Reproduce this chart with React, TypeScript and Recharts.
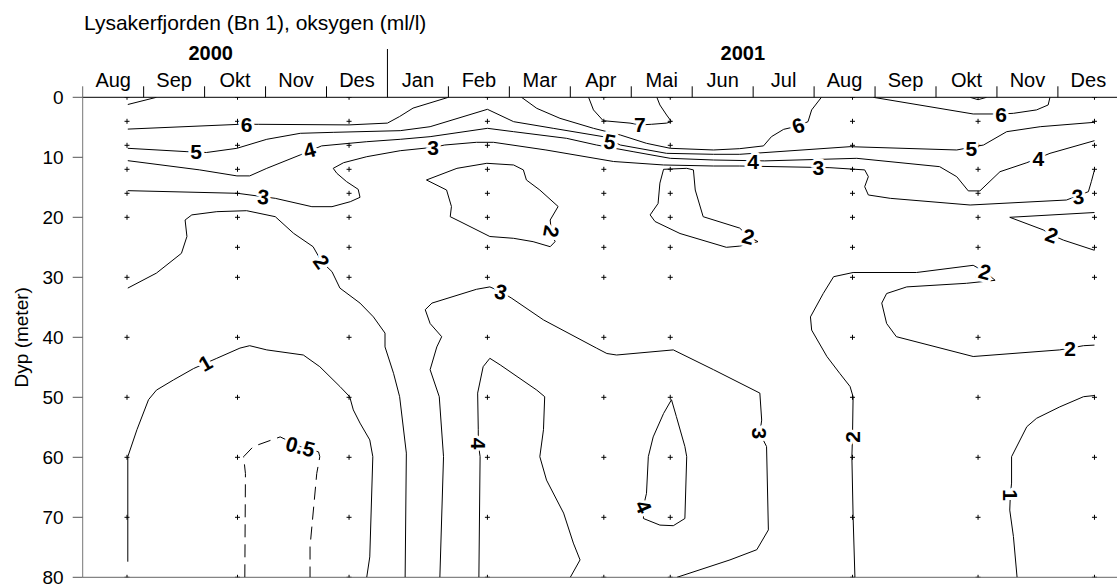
import React from 'react';
import { ComposedChart, XAxis, YAxis, Line, Scatter, ReferenceLine, Label } from 'recharts';

// chart box
const W = 1120;
const H = 584;
const Y_AXIS_W = 82.7;
const TOP = 97.3;
const MONTH_W = 60.95;

// top axis
const months = ['Aug', 'Sep', 'Okt', 'Nov', 'Des', 'Jan', 'Feb', 'Mar', 'Apr', 'Mai', 'Jun', 'Jul', 'Aug', 'Sep', 'Okt', 'Nov', 'Des'];
const monthCenters = months.map((_, i) => i + 0.5);
const yearLabels = ['2000', '2001'];
const yearPos = [2.1, 10.83];
const depthTicks = [0, 10, 20, 30, 40, 50, 60, 70, 80];

// sampling (months since 1 Aug 2000, depth m)
const sampleTimes = [0.727, 2.54, 4.37, 6.64, 8.55, 9.64, 12.63, 14.69, 16.6];
const sampleDepths = [0, 4, 8, 12, 16, 20, 25, 30, 40, 50, 60, 70, 80];

// contour lines, [month, depth]
const c6Left = [[0.74, 1.2], [1.21, 0]];
const c6Top = [[0.74, 5.3], [2.58, 4.5], [2.88, 4.5], [4.37, 4.6], [5.0, 4.3], [5.2, 3.2], [5.42, 1.8], [6.0, 0]];
const c6Mid = [[7.2, 0], [7.45, 1.84], [7.83, 3.5], [8.38, 5.17], [8.82, 6.28], [9.25, 7.67], [9.64, 8.5], [10.35, 8.78], [10.78, 8.56], [11.17, 8.1], [11.3, 6.56], [11.5, 5.34], [11.74, 4.78], [11.9, 4.06], [11.96, 2.1], [12.12, 0]];
const c6Right = [[12.97, 0], [14.61, 2.78], [15.07, 2.78], [15.27, 2.67], [15.65, 2.1], [15.84, 1.28], [15.87, 0]];
const c6Bump = [[14.56, 0], [14.69, 0.4], [14.83, 0]];
const c7 = [[8.3, 0], [8.38, 2.1], [8.54, 3.9], [8.98, 4.3], [9.14, 4.6], [9.33, 4.5], [9.58, 4.3], [9.66, 4.06], [9.58, 2.95], [9.47, 1.28], [9.42, 0]];
const c5 = [[0.74, 8.5], [1.71, 9.06], [2.03, 9.2], [2.53, 8.5], [3.02, 7.0], [3.57, 6.0], [4.11, 5.84], [5.21, 5.56], [5.7, 4.9], [6.64, 2.0], [7.07, 4.06], [7.72, 5.17], [8.54, 6.56], [8.82, 7.95], [9.58, 9.34], [10.35, 9.5], [10.78, 9.5], [12.59, 8.23], [14.34, 8.78], [14.78, 7.95], [15.16, 5.73], [15.71, 4.9], [16.6, 4.17]];
const c4 = [[0.74, 10.56], [1.92, 12.1], [2.53, 13.1], [2.74, 13.1], [3.02, 11.84], [3.57, 9.6], [3.92, 8.1], [4.66, 7.4], [5.21, 7.0], [5.7, 6.56], [6.64, 5.17], [7.07, 5.73], [7.94, 6.84], [8.43, 7.95], [9.03, 9.06], [9.64, 10.17], [10.35, 10.45], [11.19, 10.6], [12.7, 10.17], [14.06, 11.56], [14.34, 13.23], [14.53, 15.6], [14.72, 15.6], [15.05, 12.4], [15.49, 10.9], [15.87, 9.34], [16.6, 7.23]];
const c3Upper = [[0.74, 15.56], [2.54, 16.0], [3.16, 16.84], [3.76, 18.23], [4.09, 18.23], [4.39, 17.4], [4.55, 16.67], [4.52, 15.34], [4.33, 14.06], [4.17, 12.67], [4.11, 11.84], [4.28, 10.9], [4.66, 9.9], [5.21, 8.9], [5.75, 8.34], [5.94, 7.95], [6.46, 7.5], [6.74, 7.5], [7.6, 8.78], [8.71, 10.7], [9.53, 11.28], [10.35, 11.45], [10.78, 11.45], [11.96, 11.67], [12.26, 11.73], [12.83, 12.1], [12.89, 13.23], [12.83, 14.9], [12.89, 16.28], [13.25, 16.84], [14.56, 17.95], [16.14, 17.12], [16.5, 15.73], [16.55, 14.0], [16.6, 12.1]];
const c2Upper = [[0.74, 31.8], [1.21, 29.3], [1.62, 26.0], [1.71, 23.2], [1.68, 20.45], [1.79, 19.6], [2.2, 19.06], [2.69, 18.9], [3.16, 19.9], [3.46, 22.67], [3.78, 24.9], [3.92, 27.4], [4.09, 29.06], [4.22, 31.8], [4.55, 34.3], [4.77, 36.6], [4.96, 39.3], [4.96, 41.6], [5.1, 46], [5.2, 49.9], [5.31, 59.3], [5.29, 80]];
const c2Feb = [[5.64, 13.78], [5.97, 15.45], [6.05, 18.2], [6.03, 19.9], [6.19, 20.7], [6.68, 23.2], [7.07, 23.5], [7.39, 24.06], [7.67, 24.9], [7.75, 24.06], [7.69, 22.4], [7.67, 20.45], [7.8, 18.2], [7.5, 15.45], [7.28, 13.78], [7.23, 12.1], [7.07, 11.28], [6.63, 11.0], [6.14, 11.84], [5.64, 13.78]];
const c2Mai = [[9.53, 12.0], [9.91, 11.84], [10.02, 12.1], [10.05, 15.45], [10.18, 19.9], [10.78, 21.8], [10.92, 23.2], [11.08, 24.06], [10.78, 24.8], [10.56, 25.0], [9.8, 22.7], [9.39, 20.7], [9.31, 19.6], [9.44, 17.7], [9.47, 14.3], [9.53, 12.0]];
const c2Aug = [[12.67, 80], [12.64, 69.9], [12.62, 59.9], [12.63, 56.6], [12.64, 49.9], [12.59, 48.2], [12.42, 46.0], [12.21, 43.2], [11.96, 38.8], [11.94, 36.6], [12.15, 32.7], [12.32, 29.9], [12.64, 29.2], [13.68, 29.2], [14.61, 28.0], [14.8, 29.06], [14.97, 30.5], [14.5, 31.0], [13.52, 31.6], [13.19, 32.7], [13.11, 34.3], [13.19, 37.7], [13.35, 39.9], [14.61, 43.2], [16.03, 42.1], [16.2, 41.8], [16.42, 41.4], [16.6, 41.3]];
const c2NovDes = [[16.6, 19.2], [15.21, 20.0], [15.76, 22.1], [15.9, 22.95], [16.09, 23.8], [16.6, 25.5]];
const c3Lower = [[5.86, 80], [5.92, 59.9], [5.85, 49.9], [5.7, 45.4], [5.81, 41.6], [5.89, 39.9], [5.7, 37.7], [5.62, 35.4], [5.73, 34.3], [6.46, 32.0], [6.68, 31.6], [6.86, 32.4], [7.04, 33.5], [7.56, 37.1], [8.43, 41.8], [8.6, 42.7], [8.76, 42.95], [9.69, 42.1], [10.35, 45.4], [11.11, 49.3], [11.14, 53.8], [11.11, 56.0], [11.22, 58.2], [11.25, 72.1], [11.06, 75.4], [10.62, 77.1], [9.75, 80]];
const c4Lower = [[6.5, 80], [6.52, 59.9], [6.49, 57.7], [6.49, 55.4], [6.48, 49.3], [6.57, 44.9], [6.68, 43.5], [6.85, 44.6], [7.45, 48.8], [7.58, 49.9], [7.56, 55.4], [7.5, 59.9], [7.61, 63.8], [7.89, 69.3], [8.05, 74.3], [8.16, 77.1], [8.0, 80]];
const c4Mai = [[9.66, 50.4], [9.53, 52.7], [9.36, 56.6], [9.28, 59.9], [9.25, 66.0], [9.2, 68.2], [9.2, 70.2], [9.47, 71.3], [9.69, 71.4], [9.88, 70.2], [9.91, 59.9], [9.88, 58.2], [9.74, 53.2], [9.66, 50.4]];
const c1Left = [[0.74, 77.4], [0.74, 59.9], [0.89, 55.4], [1.08, 50.4], [1.21, 48.8], [1.49, 47.1], [1.82, 45.2], [2.2, 43.5], [2.58, 41.8], [2.74, 41.4], [3.02, 42.1], [3.62, 42.95], [3.89, 44.9], [4.22, 48.2], [4.38, 49.9], [4.44, 52.1], [4.55, 54.3], [4.71, 57.1], [4.76, 59.9], [4.71, 76.6], [4.66, 80]];
const c1Right = [[16.6, 49.7], [16.42, 49.9], [16.03, 51.6], [15.65, 53.5], [15.49, 54.9], [15.24, 59.9], [15.24, 64.3], [15.22, 66.3], [15.21, 68.8], [15.27, 73.2], [15.33, 80]];
const c05 = [[2.66, 80], [2.67, 62.7], [2.64, 59.9], [2.8, 58.2], [3.24, 56.6], [3.57, 58.2], [3.87, 59.1], [3.89, 59.9], [3.84, 62.7], [3.73, 74.9], [3.73, 80]];

const solidContours = [c6Left, c6Top, c6Mid, c6Right, c6Bump, c7, c5, c4, c3Upper, c2Upper, c2Feb, c2Mai, c2Aug, c2NovDes, c3Lower, c4Lower, c4Mai, c1Left, c1Right];

// contour labels: [text, month, depth, angle]
const levelLabels: [string, number, number, number][] = [
  ['6', 2.69, 4.5, 0], ['5', 1.86, 9.06, 0], ['4', 3.72, 8.78, -15], ['3', 2.96, 16.56, 5],
  ['2', 3.92, 27.4, 55], ['1', 2.01, 44.3, -30], ['0.5', 3.57, 58.2, 15], ['3', 5.75, 8.34, 0],
  ['5', 8.65, 7.4, 10], ['7', 9.14, 4.6, 0], ['4', 11.0, 10.7, 0], ['6', 11.74, 4.7, -20],
  ['3', 12.07, 11.67, 0], ['2', 7.69, 22.4, 100], ['2', 10.92, 23.2, 15], ['3', 6.86, 32.4, 15],
  ['4', 6.49, 57.7, 90], ['4', 9.2, 68.2, 65], ['3', 11.11, 56.0, 90], ['2', 12.63, 56.6, -90],
  ['6', 15.07, 2.78, 0], ['5', 14.58, 8.5, 0], ['4', 15.68, 10.17, 0], ['3', 16.33, 16.56, -10],
  ['2', 15.9, 22.95, 20], ['2', 14.8, 29.06, 15], ['2', 16.2, 41.8, 0], ['1', 15.22, 66.3, 90],
];

const toPts = (arr: number[][]) => arr.map(([m, d]) => ({ m, d }));

const samplePts = sampleTimes.flatMap((m, i) =>
  sampleDepths.filter((d) => !(i === 0 && d === 25)).map((d) => ({ m, d }))
);
const labelPts = levelLabels.map(([t, m, d, a]) => ({ m, d, t, a }));

const MonthTick = (props: any) => {
  const { x, payload } = props;
  const i = Math.floor(payload.value);
  const bx = x - MONTH_W / 2;
  return (
    <g>
      <line x1={bx} x2={bx} y1={i === 5 ? 49 : TOP - 11} y2={TOP} stroke={i === 0 ? '#666' : '#000'} strokeWidth={1} />
      <text x={x} y={TOP - 10} textAnchor="middle" fontSize={20} fill="#000">{months[i]}</text>
    </g>
  );
};

const YearTick = (props: any) => {
  const { x, payload } = props;
  const i = yearPos.indexOf(payload.value);
  return (
    <text x={x} y={59.5} textAnchor="middle" fontSize={20} fontWeight="bold" fill="#000">{yearLabels[i]}</text>
  );
};

const Cross = (props: any) => {
  const { cx, cy } = props;
  return <path d={`M${cx - 2.5},${cy}h5M${cx},${cy - 2.5}v5`} stroke="#000" strokeWidth={1} fill="none" />;
};

const LevelLabel = (props: any) => {
  const { cx, cy, payload } = props;
  return (
    <text
      x={cx}
      y={cy}
      dy="0.36em"
      textAnchor="middle"
      fontSize={21}
      fontWeight="bold"
      fill="#000"
      stroke="#fff"
      strokeWidth={6}
      strokeLinejoin="round"
      paintOrder="stroke"
      transform={`rotate(${payload.a} ${cx} ${cy})`}
    >
      {payload.t}
    </text>
  );
};

export default function App() {
  return (
    <div
      style={{
        position: 'absolute',
        left: 0,
        top: 0,
        width: 1117,
        height: 584,
        overflow: 'hidden',
        background: '#fff',
        fontFamily: '"Liberation Sans", Arial, sans-serif',
      }}
    >
      <div style={{ position: 'absolute', left: 84, top: 12, fontSize: 21, lineHeight: '21px', color: '#000', whiteSpace: 'nowrap' }}>
        Lysakerfjorden (Bn 1), oksygen (ml/l)
      </div>
      <ComposedChart width={W} height={H} margin={{ top: TOP - 60, right: W - Y_AXIS_W - 17 * MONTH_W, bottom: 584 - 577.3, left: 0 }}>
        <XAxis
          xAxisId={0}
          type="number"
          dataKey="m"
          orientation="top"
          domain={[0, 17]}
          allowDataOverflow
          ticks={monthCenters}
          interval={0}
          tick={<MonthTick />}
          tickLine={false}
          axisLine={{ stroke: '#000' }}
          height={30}
        />
        <XAxis
          xAxisId="yr"
          type="number"
          dataKey="m"
          orientation="top"
          domain={[0, 17]}
          allowDataOverflow
          ticks={yearPos}
          interval={0}
          tick={<YearTick />}
          tickLine={false}
          axisLine={false}
          height={30}
        />
        <YAxis
          type="number"
          dataKey="d"
          domain={[0, 80]}
          reversed
          allowDataOverflow
          ticks={depthTicks}
          interval={0}
          width={Y_AXIS_W}
          tickSize={10}
          tickMargin={9}
          tick={{ fontSize: 19, fill: '#000' }}
          tickLine={{ stroke: '#555' }}
          axisLine={{ stroke: '#777' }}
        >
          <Label value="Dyp (meter)" angle={-90} position="insideLeft" offset={21} fontSize={19} fill="#000" style={{ textAnchor: 'middle' }} />
        </YAxis>
        <ReferenceLine y={80} stroke="#666" strokeWidth={1} />
        {solidContours.map((c, i) => (
          <Line
            key={i}
            data={toPts(c)}
            dataKey="d"
            type="linear"
            stroke="#000"
            strokeWidth={1}
            dot={false}
            activeDot={false}
            legendType="none"
            isAnimationActive={false}
          />
        ))}
        <Line
          data={toPts(c05)}
          dataKey="d"
          type="linear"
          stroke="#000"
          strokeWidth={1}
          strokeDasharray="13 7"
          dot={false}
          activeDot={false}
          legendType="none"
          isAnimationActive={false}
        />
        <Scatter data={samplePts} shape={<Cross />} isAnimationActive={false} />
        <Scatter data={labelPts} shape={<LevelLabel />} isAnimationActive={false} />
      </ComposedChart>
    </div>
  );
}
